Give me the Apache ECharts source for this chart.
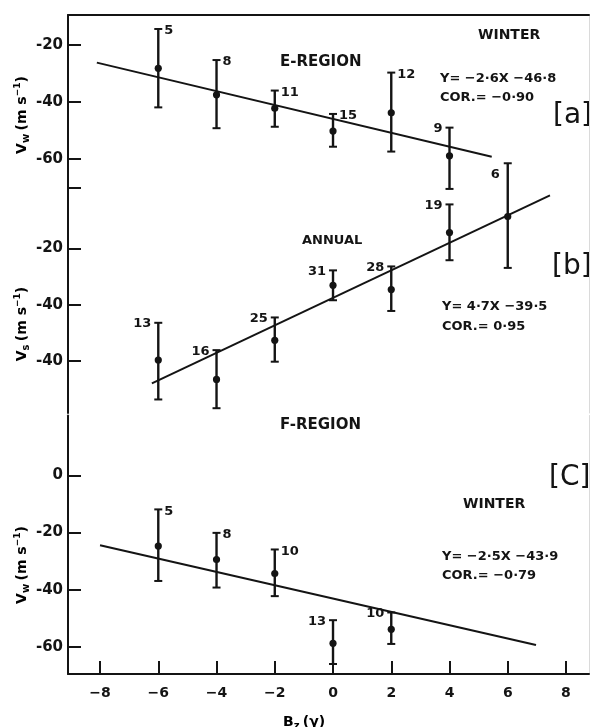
<!DOCTYPE html>
<html>
<head>
<meta charset="utf-8">
<script src="https://cdn.jsdelivr.net/npm/echarts@6/dist/echarts.min.js"></script>
<style>
html,body{margin:0;padding:0;background:#fff;}
#chart{width:591px;height:727px;}
</style>
</head>
<body>
<div id="chart"></div>
<script>
// ---------- data ----------
const xTicks = [-8, -6, -4, -2, 0, 2, 4, 6, 8];
const xTickLabels = ['\u22128', '\u22126', '\u22124', '\u22122', '0', '2', '4', '6', '8'];

// Panel (a) E-region, winter
const aX = [-6, -4, -2, 0, 2, 4, 6];
const aMean = [-28.2, -37.5, -42.2, -50.2, -43.8, -58.9, -80.2];
const aLow = [-41.9, -49.2, -48.7, -55.7, -57.4, -70.5, -98.2];
const aHigh = [-14.4, -25.3, -36.0, -44.2, -29.7, -49.0, -61.5];
const aCount = [5, 8, 11, 15, 12, 9, 6];
const aFitX = [-8.11, 5.45];
const aFitY = [-26.2, -59.2];
const aTickValues = [-20, -40, -60, -70];
const aTickLabels = ['-20', '-40', '-60', ''];

// Panel (b) annual
const bX = [-6, -4, -2, 0, 2, 4];
const bMean = [-59.6, -66.5, -52.6, -33.1, -34.6, -14.4];
const bLow = [-73.6, -76.7, -60.2, -38.4, -42.2, -24.2];
const bHigh = [-46.4, -56.1, -44.5, -27.8, -26.4, -4.4];
const bCount = [13, 16, 25, 31, 28, 19];
const bFitX = [-6.22, 7.45];
const bFitY = [-67.9, -1.2];
const bTickValues = [-20, -40, -60];
const bTickLabels = ['-20', '-40', '-40'];

// Panel (c) F-region, winter
const cX = [-6, -4, -2, 0, 2];
const cMean = [-24.7, -29.4, -34.3, -58.7, -53.8];
const cLow = [-36.9, -39.2, -42.2, -65.9, -58.9];
const cHigh = [-11.9, -20.1, -25.9, -50.6, -47.9];
const cCount = [5, 8, 10, 13, 10];
const cFitX = [-8.0, 6.97];
const cFitY = [-24.4, -59.3];
const cTickValues = [0, -20, -40, -60];
const cTickLabels = ['0', '-20', '-40', '-60'];

// ---------- layout / style ----------
const aSide = ['r', 'r', 'r', 'r', 'r', 'l', 'lb'];
const bSide = ['l', 'l', 'l', 'l', 'l', 'l'];
const cSide = ['r', 'r', 'r', 'l', 'l'];

const INK = '#141414';
const FONT = '"DejaVu Sans", sans-serif';
const X_MIN = -9.1, X_MAX = 8.79;

function rows(xs, mean, lo, hi, cnt) {
  return xs.map((x, i) => [x, mean[i], lo[i], hi[i], cnt[i]]);
}
function pairs(xs, ys) { return xs.map((x, i) => [x, ys[i]]); }

function errRender(sides) {
  return function (params, api) {
    const x = api.value(0);
    const pc = api.coord([x, api.value(1)]);
    const pl = api.coord([x, api.value(2)]);
    const ph = api.coord([x, api.value(3)]);
    const n = api.value(4);
    const side = sides[params.dataIndex];
    const cap = 4;
    const ls = { stroke: INK, lineWidth: 2.4 };
    let tx, ty, al;
    if (side === 'r') { tx = ph[0] + 6; ty = ph[1] + 2; al = 'left'; }
    else if (side === 'lb') { tx = ph[0] - 8; ty = ph[1] + 11; al = 'right'; }
    else { tx = ph[0] - 7; ty = ph[1] + 1; al = 'right'; }
    return {
      type: 'group',
      children: [
        { type: 'line', shape: { x1: pl[0], y1: pl[1], x2: ph[0], y2: ph[1] }, style: ls },
        { type: 'line', shape: { x1: ph[0] - cap, y1: ph[1], x2: ph[0] + cap, y2: ph[1] }, style: { stroke: INK, lineWidth: 2 } },
        { type: 'line', shape: { x1: pl[0] - cap, y1: pl[1], x2: pl[0] + cap, y2: pl[1] }, style: { stroke: INK, lineWidth: 2 } },
        { type: 'circle', shape: { cx: pc[0], cy: pc[1], r: 3.6 }, style: { fill: INK } },
        { type: 'text', style: { text: String(n), x: tx, y: ty, align: al, verticalAlign: 'middle', font: 'bold 13px ' + FONT, fill: INK } }
      ]
    };
  };
}

function yAxisFor(gi, min, max, vals, labels) {
  return {
    type: 'value', gridIndex: gi, min: min, max: max, position: 'left',
    axisLine: { show: true, onZero: false, lineStyle: { color: INK, width: 2 } },
    axisTick: { show: true, inside: true, length: 13, customValues: vals, lineStyle: { color: INK, width: 2 } },
    axisLabel: {
      show: true, customValues: vals.filter((v, i) => labels[i] !== ''), margin: 5,
      color: INK, fontFamily: FONT, fontWeight: 'bold', fontSize: 15,
      formatter: (v) => { const i = vals.indexOf(v); return i >= 0 ? labels[i] : ''; }
    },
    splitLine: { show: false }
  };
}
function rightAxis(gi, min, max) {
  return {
    type: 'value', gridIndex: gi, min: min, max: max, position: 'right',
    axisLine: { show: true, onZero: false, lineStyle: { color: '#dadada', width: 1 } },
    axisTick: { show: false }, axisLabel: { show: false }, splitLine: { show: false }
  };
}

function txt(text, x, y, size, weight, extra) {
  return Object.assign({
    type: 'text', x: x, y: y,
    style: { text: text, font: weight + ' ' + size + 'px ' + FONT, fill: INK, align: 'left', verticalAlign: 'middle' }
  }, extra || {});
}

const richAxis = {
  v: { fontFamily: FONT, fontWeight: 'bold', fontSize: 14, color: INK, lineHeight: 18 },
  s: { fontFamily: FONT, fontWeight: 'bold', fontSize: 10, color: INK, lineHeight: 18, verticalAlign: 'bottom', padding: [6, 0, 0, 0] },
  p: { fontFamily: FONT, fontWeight: 'bold', fontSize: 9, color: INK, lineHeight: 18, verticalAlign: 'top', padding: [0, 0, 6, 0] }
};
function yTitle(sub, cy) {
  return {
    type: 'text', x: 22, y: cy, rotation: Math.PI / 2,
    style: {
      text: '{v|V}{s|' + sub + '} {v|(m s}{p|\u22121}{v|)}',
      rich: richAxis, align: 'center', verticalAlign: 'middle'
    }
  };
}

const chart = echarts.init(document.getElementById('chart'), null, { renderer: 'canvas' });
chart.setOption({
  animation: false,
  backgroundColor: '#fff',
  grid: [
    { left: 68, top: 15, width: 521, height: 172.5 },
    { left: 68, top: 187.5, width: 521, height: 225.5 },
    { left: 68, top: 415.5, width: 521, height: 258.5 }
  ],
  xAxis: [
    { type: 'value', gridIndex: 0, min: X_MIN, max: X_MAX, position: 'top',
      axisLine: { show: true, onZero: false, lineStyle: { color: INK, width: 2 } },
      axisTick: { show: false }, axisLabel: { show: false }, splitLine: { show: false } },
    { type: 'value', gridIndex: 1, min: X_MIN, max: X_MAX, show: false },
    { type: 'value', gridIndex: 2, min: X_MIN, max: X_MAX, position: 'bottom',
      axisLine: { show: true, onZero: false, lineStyle: { color: INK, width: 2 } },
      axisTick: { show: true, inside: true, length: 13, customValues: xTicks, lineStyle: { color: INK, width: 2 } },
      axisLabel: { show: true, customValues: xTicks, margin: 12, color: INK, fontFamily: FONT, fontWeight: 'bold', fontSize: 14,
        formatter: (v) => { const i = xTicks.indexOf(v); return i >= 0 ? xTickLabels[i] : ''; } },
      splitLine: { show: false } }
  ],
  yAxis: [
    yAxisFor(0, -70, -9.5, aTickValues, aTickLabels),
    yAxisFor(1, -78.4, 1.6, bTickValues, bTickLabels),
    yAxisFor(2, -69.4, 20.9, cTickValues, cTickLabels),
    rightAxis(0, -70, -9.5),
    rightAxis(1, -78.4, 1.6),
    rightAxis(2, -69.4, 20.9)
  ],
  series: [
    { type: 'line', xAxisIndex: 0, yAxisIndex: 0, data: pairs(aFitX, aFitY), symbol: 'none', lineStyle: { color: INK, width: 2 }, z: 2 },
    { type: 'line', xAxisIndex: 1, yAxisIndex: 1, data: pairs(bFitX, bFitY), symbol: 'none', lineStyle: { color: INK, width: 2 }, z: 2 },
    { type: 'line', xAxisIndex: 2, yAxisIndex: 2, data: pairs(cFitX, cFitY), symbol: 'none', lineStyle: { color: INK, width: 2 }, z: 2 },
    { type: 'custom', xAxisIndex: 0, yAxisIndex: 0, clip: false, renderItem: errRender(aSide), data: rows(aX, aMean, aLow, aHigh, aCount), z: 3 },
    { type: 'custom', xAxisIndex: 1, yAxisIndex: 1, clip: false, renderItem: errRender(bSide), data: rows(bX, bMean, bLow, bHigh, bCount), z: 3 },
    { type: 'custom', xAxisIndex: 2, yAxisIndex: 2, clip: false, renderItem: errRender(cSide), data: rows(cX, cMean, cLow, cHigh, cCount), z: 3 }
  ],
  graphic: [
    txt('E-REGION', 280, 62, 15, 'bold'),
    txt('WINTER', 478, 35, 14, 'bold'),
    txt('Y= \u22122\u00b76X \u221246\u00b78', 440, 79, 13, 'bold'),
    txt('COR.= \u22120\u00b790', 440, 98, 13, 'bold'),
    txt('[a]', 553, 116, 28, 'normal'),
    txt('ANNUAL', 302, 241, 13, 'bold'),
    txt('Y= 4\u00b77X \u221239\u00b75', 442, 307, 13, 'bold'),
    txt('COR.= 0\u00b795', 442, 327, 13, 'bold'),
    txt('[b]', 552, 267, 28, 'normal'),
    txt('F-REGION', 280, 425, 15, 'bold'),
    txt('[C]', 549, 478, 28, 'normal'),
    txt('WINTER', 463, 504, 14, 'bold'),
    txt('Y= \u22122\u00b75X \u221243\u00b79', 442, 557, 13, 'bold'),
    txt('COR.= \u22120\u00b779', 442, 576, 13, 'bold'),
    yTitle('w', 115),
    yTitle('s', 324),
    yTitle('w', 565),
    {
      type: 'text', x: 283, y: 722,
      style: { text: '{v|B}{s|z} {v|(\u03b3)}', rich: richAxis, align: 'left', verticalAlign: 'middle' }
    }
  ]
});
</script>
</body>
</html>
